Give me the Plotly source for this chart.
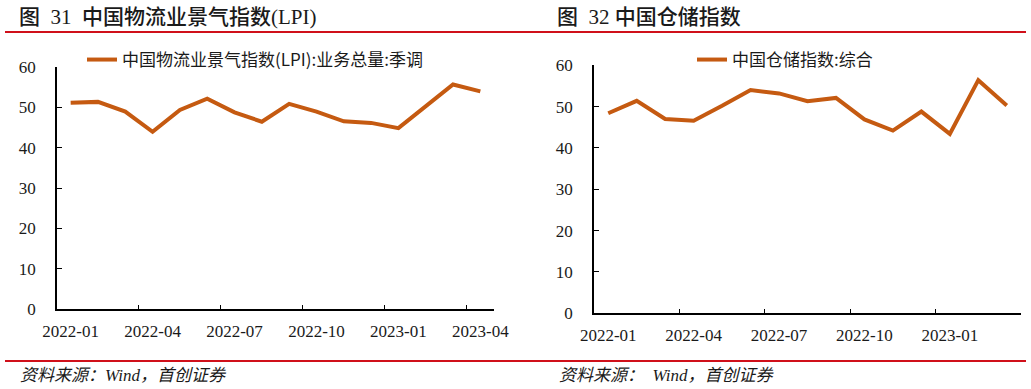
import plotly.graph_objects as go

W, H = 1031, 389

months_lpi = ["2022-01", "2022-02", "2022-03", "2022-04", "2022-05", "2022-06",
              "2022-07", "2022-08", "2022-09", "2022-10", "2022-11", "2022-12",
              "2023-01", "2023-02", "2023-03", "2023-04"]
lpi_values = [51.1, 51.3, 48.9, 43.9, 49.3, 52.1, 48.7, 46.4, 50.8, 48.9,
              46.5, 46.1, 44.8, 50.1, 55.6, 53.9]

months_wh = months_lpi[:15]
wh_values = [48.4, 51.4, 47.0, 46.6, 50.2, 54.0, 53.2, 51.3, 52.1, 46.9,
             44.2, 48.8, 43.4, 56.4, 50.3]

name_lpi = "中国物流业景气指数(LPI):业务总量:季调"
name_wh = "中国仓储指数:综合"
title_left = "图  31  中国物流业景气指数(LPI)"
title_right = "图  32 中国仓储指数"
source_left = "资料来源：Wind，首创证券"
source_right = "资料来源：  Wind，首创证券"

LINE = "#C55A11"
RED = "#D0101A"
TXT = "#1a1a1a"
SERIF = "Liberation Serif, 'Times New Roman', 'Noto Sans CJK SC', serif"
CJK = "'Noto Sans CJK SC', 'Liberation Serif', sans-serif"

def px(x):
    return x / W

def py(y):
    return 1 - y / H

fig = go.Figure()
fig.add_trace(go.Scatter(x=months_lpi, y=lpi_values, mode="lines", name=name_lpi,
                         line=dict(color=LINE, width=4), xaxis="x", yaxis="y",
                         legend="legend"))
fig.add_trace(go.Scatter(x=months_wh, y=wh_values, mode="lines", name=name_wh,
                         line=dict(color=LINE, width=4), xaxis="x2", yaxis="y2",
                         legend="legend2"))

xcommon = dict(type="category", tickson="boundaries", dtick=3, tick0=0,
               ticks="inside", ticklen=5, tickwidth=1.3, tickcolor="#000",
               showline=True, linecolor="#000", linewidth=1.5, showgrid=False,
               zeroline=False, tickfont=dict(family=SERIF, size=17, color=TXT),
               tickangle=0, automargin=False, ticklabelstandoff=6, fixedrange=True)
ycommon = dict(range=[0, 60], dtick=10, ticks="inside", ticklen=5, tickwidth=1.3,
               tickcolor="#000", showline=True, linecolor="#000", linewidth=1.5,
               showgrid=False, zeroline=False, automargin=False,
               tickfont=dict(family=SERIF, size=17, color=TXT),
               ticklabelstandoff=16, fixedrange=True)

fig.update_layout(
    width=W, height=H, autosize=False,
    margin=dict(l=0, r=0, t=0, b=0, pad=0, autoexpand=False),
    paper_bgcolor="white", plot_bgcolor="white", showlegend=True,
    xaxis=dict(xcommon, domain=[px(57), px(494)], range=[-0.5, 15.5], anchor="y",
               categoryarray=months_lpi, categoryorder="array"),
    yaxis=dict(ycommon, domain=[py(309.3), py(66.7)], anchor="x"),
    xaxis2=dict(xcommon, domain=[px(594), px(1021)], range=[-0.5, 14.5], anchor="y2",
                categoryarray=months_wh, categoryorder="array"),
    yaxis2=dict(ycommon, domain=[py(313.3), py(65.3)], anchor="x2"),
    legend=dict(x=px(82), y=py(60), xanchor="left", yanchor="middle",
                bgcolor="rgba(0,0,0,0)", font=dict(family=CJK, size=17, color=TXT),
                itemwidth=30),
    legend2=dict(x=px(692), y=py(60), xanchor="left", yanchor="middle",
                 bgcolor="rgba(0,0,0,0)", font=dict(family=CJK, size=17, color=TXT),
                 itemwidth=30),
)

title_font = dict(family=SERIF, size=21, color=TXT, weight=500)
fig.add_annotation(x=px(17), y=py(17), xref="paper", yref="paper", text=title_left,
                   showarrow=False, xanchor="left", yanchor="middle", font=title_font)
fig.add_annotation(x=px(555), y=py(17), xref="paper", yref="paper", text=title_right,
                   showarrow=False, xanchor="left", yanchor="middle", font=title_font)
src_font = dict(family=SERIF, size=17, color=TXT, style="italic")
fig.add_annotation(x=px(18), y=py(375), xref="paper", yref="paper", text=source_left,
                   showarrow=False, xanchor="left", yanchor="middle", font=src_font)
fig.add_annotation(x=px(557), y=py(375), xref="paper", yref="paper", text=source_right,
                   showarrow=False, xanchor="left", yanchor="middle", font=src_font)

for yy in (32, 361):
    fig.add_shape(type="line", xref="paper", yref="paper", x0=px(5), x1=px(1026),
                  y0=py(yy), y1=py(yy), line=dict(color=RED, width=2))

fig.write_html("out.html", config={"displayModeBar": False},
               post_script="document.body.style.margin='0';document.body.style.overflow='hidden';")
